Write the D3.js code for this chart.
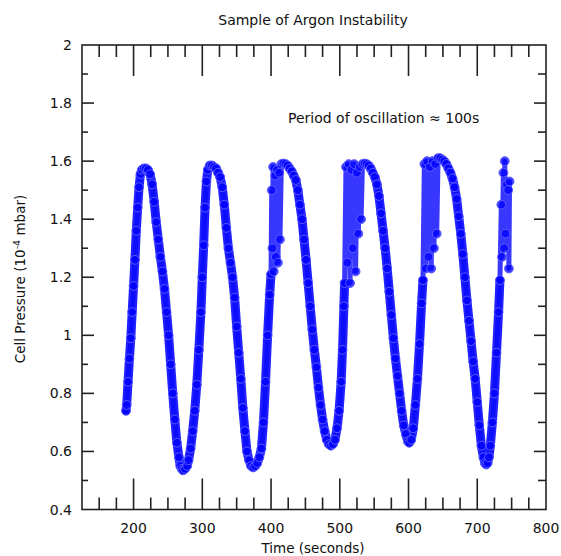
<!DOCTYPE html>
<meta charset="utf-8">
<style>
  body {margin: 0; background: #fff; font-family: 'DejaVu Sans', sans-serif;}
  text {fill: #111;}
</style>
<svg width="561" height="556"></svg>
<script src="https://d3js.org/d3.v7.min.js"></script>
<script>

// readings: time (s) and cell pressure (1e-4 mbar)
var timeSec = [
  189,190,192,194,196,198,200,202,204,206,208,210,212,215,218,221,224,227,230,233,
  236,239,242,245,248,251,254,257,260,263,266,268,270,272,275,278,280,283,286,289,
  292,295,298,300,302,304,306,308,311,314,317,320,323,326,329,332,335,338,341,344,
  347,350,353,356,359,362,365,368,371,374,377,380,383,386,389,392,395,398,400,
  401,402,403,404,406,407,409,410,412,413,415,
  418,421,424,427,430,433,436,439,442,445,448,451,454,457,460,463,466,469,472,475,
  478,481,484,487,490,493,496,499,502,504,506,507,
  509,511,513,515,517,519,521,523,525,527,529,531,533,
  536,539,542,545,548,551,554,557,560,563,566,569,572,575,578,581,584,587,590,593,
  596,599,601,604,607,610,613,616,619,621,
  623,625,627,629,631,633,635,637,639,641,
  643,646,649,652,655,658,661,664,667,670,673,676,679,682,685,688,691,694,697,700,
  703,706,709,711,713,715,717,719,722,725,728,731,733,
  735,736,738,739,740,741,743,745,746,747
];

var pressure = [
  0.74,0.76,0.84,0.92,0.99,1.08,1.17,1.26,1.36,1.44,1.51,1.555,1.57,1.575,1.575,1.57,1.555,1.52,1.46,1.39,
  1.33,1.27,1.22,1.16,1.08,1.00,0.90,0.80,0.71,0.63,0.58,0.55,0.54,0.535,0.54,0.55,0.57,0.61,0.67,0.74,
  0.83,0.95,1.08,1.20,1.31,1.44,1.53,1.57,1.585,1.585,1.58,1.575,1.56,1.545,1.51,1.45,1.37,1.30,1.25,1.20,
  1.13,1.03,0.94,0.85,0.75,0.67,0.60,0.57,0.55,0.545,0.55,0.56,0.58,0.61,0.70,0.84,1.00,1.14,1.21,
  1.50,1.30,1.58,1.22,1.55,1.27,1.57,1.25,1.56,1.33,1.59,
  1.592,1.59,1.585,1.575,1.565,1.55,1.535,1.50,1.45,1.40,1.33,1.26,1.18,1.10,1.02,0.95,0.89,0.82,0.76,0.71,
  0.67,0.64,0.625,0.62,0.625,0.64,0.68,0.74,0.84,0.95,1.10,1.18,
  1.58,1.25,1.59,1.18,1.57,1.30,1.59,1.22,1.56,1.35,1.58,1.40,1.59,
  1.592,1.59,1.585,1.575,1.56,1.545,1.52,1.48,1.42,1.36,1.30,1.23,1.15,1.07,0.99,0.92,0.86,0.80,0.74,0.69,
  0.66,0.635,0.63,0.64,0.68,0.76,0.85,0.97,1.11,1.19,
  1.59,1.23,1.60,1.27,1.58,1.23,1.60,1.30,1.59,1.35,
  1.61,1.61,1.605,1.60,1.59,1.575,1.56,1.54,1.51,1.47,1.41,1.35,1.28,1.20,1.12,1.05,0.98,0.91,0.85,0.77,
  0.69,0.62,0.58,0.56,0.555,0.56,0.58,0.62,0.70,0.80,0.94,1.08,1.19,
  1.45,1.27,1.56,1.30,1.60,1.35,1.52,1.50,1.23,1.53
];

// time windows where the reading jitters between two levels
var burstWindows = [[400.5, 416], [508, 535], [622, 642], [734, 748]];

var xTicks = [200, 300, 400, 500, 600, 700, 800];
var xMinor = d3.range(150, 800, 25);
var yTicks = [0.4, 0.6, 0.8, 1, 1.2, 1.4, 1.6, 1.8, 2];
var yMinor = [0.5, 0.7, 0.9, 1.1, 1.3, 1.5, 1.7, 1.9];

var svg = d3.select("svg");
var pL = 82, pR = 546, pT = 45, pB = 509.5;

var x = d3.scaleLinear().domain([125, 800]).range([pL, pR]);
var y = d3.scaleLinear().domain([0.4, 2]).range([pB, pT]);

var data = timeSec.map(function(t, i) { return {t: t, p: pressure[i]}; });

function inBurst(d) {
  return burstWindows.some(function(w) { return d.t > w[0] && d.t < w[1]; });
}

// trace: thin through the jitter, thick elsewhere
var thin = d3.line()
    .x(function(d) { return x(d.t); })
    .y(function(d) { return y(d.p); });

var thick = d3.line()
    .defined(function(d) { return !inBurst(d); })
    .x(function(d) { return x(d.t); })
    .y(function(d) { return y(d.p); });

svg.append("path")
    .datum(data)
    .attr("d", thin)
    .attr("fill", "none")
    .attr("stroke", "#1414ff")
    .attr("stroke-width", 5)
    .attr("stroke-linejoin", "round")
    .attr("stroke-linecap", "round")
    .attr("opacity", 0.85);

svg.append("path")
    .datum(data)
    .attr("d", thick)
    .attr("fill", "none")
    .attr("stroke", "#0a0aff")
    .attr("stroke-width", 9)
    .attr("stroke-linejoin", "round")
    .attr("stroke-linecap", "round")
    .attr("opacity", 0.9);

svg.append("g")
  .selectAll("circle")
  .data(data)
  .enter().append("circle")
    .attr("cx", function(d) { return x(d.t); })
    .attr("cy", function(d) { return y(d.p); })
    .attr("r", 4.4)
    .attr("fill", "#0000ff")
    .attr("fill-opacity", 0.75)
    .attr("stroke", "#5c5cff")
    .attr("stroke-width", 1);

// frame and ticks
var ax = svg.append("g").attr("stroke", "#222").attr("stroke-width", 1.6);

ax.append("rect")
    .attr("x", pL).attr("y", pT)
    .attr("width", pR - pL).attr("height", pB - pT)
    .attr("fill", "none");

function tickLen(v, major, minor) { return xTicks.indexOf(v) >= 0 ? major : minor; }

var xAll = xMinor.concat(xTicks.filter(function(v) { return v < 800; })).sort(d3.ascending);
xAll = xAll.filter(function(v, i) { return xAll.indexOf(v) === i; });

ax.selectAll(".xb").data(xAll).enter().append("line")
    .attr("x1", function(d) { return x(d); }).attr("x2", function(d) { return x(d); })
    .attr("y1", pB)
    .attr("y2", function(d) { return pB - tickLen(d, 31, 12); });

ax.selectAll(".xt").data(xAll).enter().append("line")
    .attr("x1", function(d) { return x(d); }).attr("x2", function(d) { return x(d); })
    .attr("y1", pT)
    .attr("y2", function(d) { return pT + tickLen(d, 31, 12); });

var yAll = yTicks.concat(yMinor).filter(function(v) { return v > 0.4 && v < 2; });

ax.selectAll(".yl").data(yAll).enter().append("line")
    .attr("x1", pL)
    .attr("x2", function(d) { return pL + (yTicks.indexOf(d) >= 0 ? 12 : 6); })
    .attr("y1", function(d) { return y(d); }).attr("y2", function(d) { return y(d); });

ax.selectAll(".yr").data(yAll).enter().append("line")
    .attr("x1", pR)
    .attr("x2", function(d) { return pR - (yTicks.indexOf(d) >= 0 ? 12 : 8); })
    .attr("y1", function(d) { return y(d); }).attr("y2", function(d) { return y(d); });

// tick labels
svg.append("g").selectAll("text").data(xTicks).enter().append("text")
    .attr("x", function(d) { return x(d); })
    .attr("y", pB + 23)
    .attr("text-anchor", "middle")
    .style("font-size", "14px")
    .text(function(d) { return d; });

svg.append("g").selectAll("text").data(yTicks).enter().append("text")
    .attr("x", pL - 10)
    .attr("y", function(d) { return y(d) + 5; })
    .attr("text-anchor", "end")
    .style("font-size", "14px")
    .text(function(d) { return d; });

// titles
svg.append("text")
    .attr("x", 313).attr("y", 25)
    .attr("text-anchor", "middle")
    .style("font-size", "14px")
    .text("Sample of Argon Instability");

svg.append("text")
    .attr("x", 288).attr("y", 123)
    .style("font-size", "14px")
    .text("Period of oscillation \u2248 100s");

svg.append("text")
    .attr("x", 313).attr("y", 553)
    .attr("text-anchor", "middle")
    .style("font-size", "13.5px")
    .text("Time (seconds)");

var yl = svg.append("text")
    .attr("transform", "translate(25,279) rotate(-90)")
    .attr("text-anchor", "middle")
    .style("font-size", "13.5px");
yl.append("tspan").text("Cell Pressure (10");
yl.append("tspan").attr("dy", -5).style("font-size", "9.5px").text("-4");
yl.append("tspan").attr("dy", 5).text(" mbar)");

</script>
